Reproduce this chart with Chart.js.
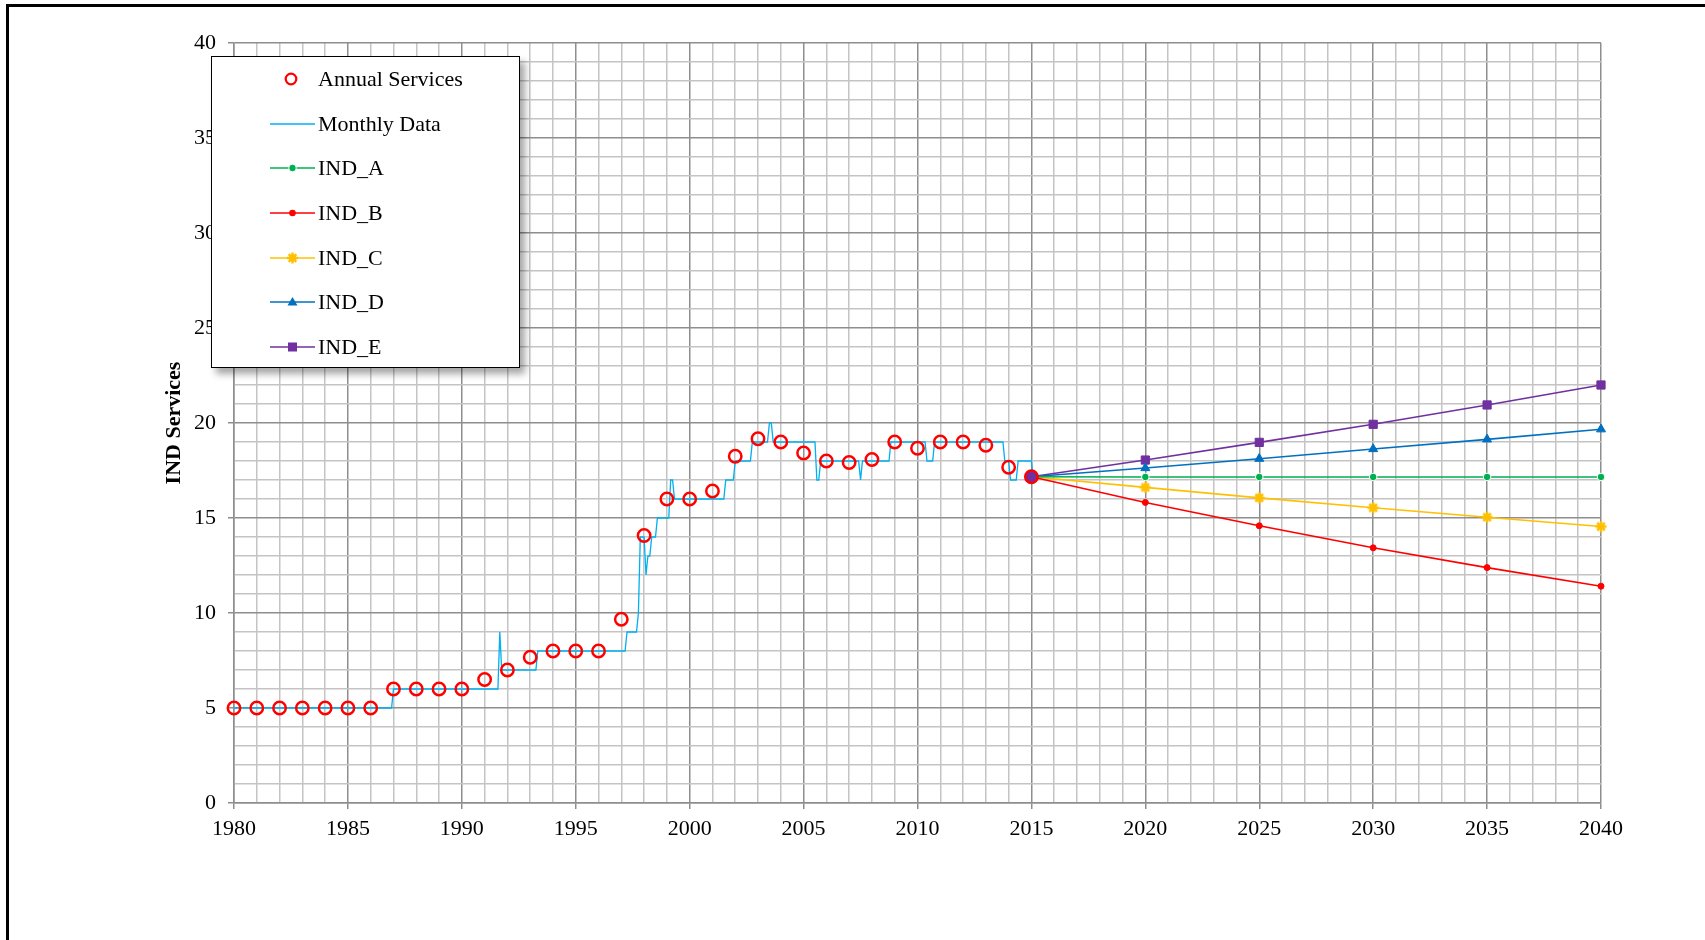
<!DOCTYPE html>
<html>
<head>
<meta charset="utf-8">
<script src="https://cdn.jsdelivr.net/npm/chart.js@4"></script>
<style>
  html, body { margin: 0; padding: 0; background: #fff; overflow: hidden; }
  body { width: 1705px; height: 940px; position: relative; font-family: 'Liberation Serif', 'Times New Roman', serif; }
  #frame { position: absolute; left: 6px; top: 4px; width: 2000px; height: 2000px; border-left: 3px solid #000; border-top: 3px solid #000; }
  #chartCanvas { position: absolute; left: 0; top: 0; }
  #legend { position: absolute; left: 211px; top: 56px; width: 309px; height: 312px; box-sizing: border-box;
            background: #fff; border: 1.5px solid #000; box-shadow: 5px 6px 7px rgba(0,0,0,0.35); }
  .item { height: 44.6px; display: flex; align-items: center; padding-left: 58px; font-size: 22px; color: #000; white-space: nowrap; }
  .item svg { width: 45px; height: 16px; margin-right: 3px; flex: none; }
</style>
</head>
<body>
<div id="frame"></div>
<canvas id="chartCanvas" width="1705" height="940"></canvas>
<div id="legend"></div>
<script>
// Annual values (one per year)
const annualYears = [1980, 1981, 1982, 1983, 1984, 1985, 1986, 1987, 1988, 1989, 1990, 1991,
  1992, 1993, 1994, 1995, 1996, 1997, 1998, 1999, 2000, 2001, 2002, 2003, 2004, 2005, 2006,
  2007, 2008, 2009, 2010, 2011, 2012, 2013, 2014, 2015];
const annualServices = [5, 5, 5, 5, 5, 5, 5, 6, 6, 6, 6, 6.5,
  7, 7.67, 8, 8, 8, 9.67, 14.08, 16, 16, 16.42, 18.25, 19.17, 19, 18.42, 18,
  17.92, 18.08, 19, 18.67, 19, 19, 18.83, 17.67, 17.17];

// Monthly data from Jan 1980: [value, number of months at that value]
const monthlyStartYear = 1980;
const monthlySteps = [[5, 84], [6, 56], [9, 1], [7, 19], [8, 47], [9, 6], [10, 1], [14, 3],
  [12, 1], [13, 2], [14, 3], [15, 7], [17, 2], [16, 27], [17, 5], [18, 9], [19, 9], [20, 2],
  [19, 23], [17, 2], [18, 21], [17, 1], [18, 15], [19, 19], [18, 4], [19, 37], [18, 3],
  [17, 4], [18, 8], [17, 1]];

// Projections
const projYears = [2015, 2020, 2025, 2030, 2035, 2040];
const indA = [17.17, 17.16, 17.16, 17.16, 17.16, 17.16];
const indB = [17.17, 15.82, 14.59, 13.43, 12.39, 11.41];
const indC = [17.17, 16.61, 16.06, 15.54, 15.04, 14.55];
const indD = [17.17, 17.63, 18.12, 18.63, 19.14, 19.67];
const indE = [17.17, 18.05, 18.98, 19.93, 20.95, 22.0];

const FONT = "'Liberation Serif', 'Times New Roman', serif";

// monthly points, one per month
const monthlyData = [];
let month = 0;
monthlySteps.forEach(([value, count]) => {
  for (let i = 0; i < count; i++) {
    monthlyData.push({ x: monthlyStartYear + month / 12, y: value });
    month++;
  }
});

const pairs = (xs, ys) => xs.map((x, i) => ({ x: x, y: ys[i] }));

// star-like marker for IND_C
function starMarker(color) {
  const c = document.createElement('canvas');
  c.width = 12; c.height = 12;
  const g = c.getContext('2d');
  g.fillStyle = color; g.strokeStyle = color; g.lineWidth = 2.4;
  g.beginPath(); g.arc(6, 6, 3.6, 0, Math.PI * 2); g.fill();
  g.beginPath();
  g.moveTo(6, 0.5); g.lineTo(6, 11.5);
  g.moveTo(0.5, 6); g.lineTo(11.5, 6);
  g.moveTo(2.2, 2.2); g.lineTo(9.8, 9.8);
  g.moveTo(9.8, 2.2); g.lineTo(2.2, 9.8);
  g.stroke();
  return c;
}

const MAJOR = '#8e8e8e';
const MINOR = '#c4c4c4';
const isMajor = ctx => ctx.tick && Math.round(ctx.tick.value) % 5 === 0;

const datasets = [
  {
    label: 'Annual Services',
    data: pairs(annualYears, annualServices),
    showLine: false,
    pointStyle: 'circle',
    pointRadius: 6.2,
    pointBorderWidth: 2.5,
    pointBorderColor: '#FF0000',
    pointBackgroundColor: ctx => ctx.dataIndex === annualYears.length - 1 ? '#7030A0' : 'rgba(0,0,0,0)',
    marker: 'ring', color: '#FF0000'
  },
  {
    label: 'Monthly Data',
    data: monthlyData,
    borderColor: '#00B0F0',
    borderWidth: 1.3,
    pointRadius: 0,
    marker: 'none', color: '#00B0F0'
  },
  {
    label: 'IND_A', data: pairs(projYears, indA),
    borderColor: '#00B050', borderWidth: 1.6,
    pointStyle: 'circle', pointRadius: 3.8, pointBackgroundColor: '#00B050',
    pointBorderColor: '#ffffff', pointBorderWidth: 1,
    marker: 'circle', color: '#00B050'
  },
  {
    label: 'IND_B', data: pairs(projYears, indB),
    borderColor: '#FF0000', borderWidth: 1.6,
    pointStyle: 'circle', pointRadius: 3, pointBackgroundColor: '#FF0000',
    pointBorderColor: '#FF0000', pointBorderWidth: 1,
    marker: 'dot', color: '#FF0000'
  },
  {
    label: 'IND_C', data: pairs(projYears, indC),
    borderColor: '#FFC000', borderWidth: 1.6,
    pointStyle: starMarker('#FFC000'),
    marker: 'star', color: '#FFC000'
  },
  {
    label: 'IND_D', data: pairs(projYears, indD),
    borderColor: '#0070C0', borderWidth: 1.6,
    pointStyle: 'triangle', pointRadius: 5.2, pointBackgroundColor: '#0070C0',
    pointBorderColor: '#0070C0', pointBorderWidth: 1,
    marker: 'triangle', color: '#0070C0'
  },
  {
    label: 'IND_E', data: pairs(projYears, indE),
    borderColor: '#7030A0', borderWidth: 1.6,
    pointStyle: 'rect', pointRadius: 5.8, pointBackgroundColor: '#7030A0',
    pointBorderColor: '#7030A0', pointBorderWidth: 1,
    marker: 'square', color: '#7030A0'
  }
];
// markers at the axis edges must not be cut off
datasets.forEach(ds => { ds.clip = false; });

const ctx = document.getElementById('chartCanvas').getContext('2d');
const chart = new Chart(ctx, {
  type: 'line',
  data: { datasets: datasets },
  options: {
    responsive: false,
    animation: false,
    layout: { padding: { left: 161, top: 43, right: 104, bottom: 77 } },
    plugins: { legend: { display: false }, tooltip: { enabled: false } },
    elements: { line: { tension: 0 } },
    scales: {
      x: {
        type: 'linear', min: 1980, max: 2040,
        afterFit: s => { s.height = 60; },
        border: { display: true, color: MAJOR, width: 1.5 },
        grid: {
          color: ctx => isMajor(ctx) ? MAJOR : MINOR,
          tickColor: ctx => isMajor(ctx) ? MAJOR : 'rgba(0,0,0,0)',
          lineWidth: 1.5, tickLength: 6
        },
        ticks: {
          stepSize: 1, autoSkip: false, maxRotation: 0, padding: 7, color: '#000',
          font: { family: FONT, size: 22 },
          callback: v => Math.round(v) % 5 === 0 ? String(Math.round(v)) : ''
        }
      },
      y: {
        min: 0, max: 40,
        afterFit: s => { s.width = 73; },
        border: { display: true, color: MAJOR, width: 1.5 },
        grid: {
          color: ctx => isMajor(ctx) ? MAJOR : MINOR,
          tickColor: ctx => isMajor(ctx) ? MAJOR : 'rgba(0,0,0,0)',
          lineWidth: 1.5, tickLength: 6
        },
        ticks: {
          stepSize: 1, autoSkip: false, padding: 12, color: '#000',
          font: { family: FONT, size: 22 },
          callback: v => Math.round(v) % 5 === 0 ? String(Math.round(v)) : ''
        },
        title: {
          display: true, text: 'IND Services', color: '#000', padding: 0,
          font: { family: FONT, size: 22, weight: 'bold' }
        }
      }
    }
  }
});

// legend box drawn as html, built from the chart datasets
function markerSvg(ds) {
  const c = ds.color;
  let line = '<line x1="0" y1="8" x2="45" y2="8" stroke="' + c + '" stroke-width="1.6"/>';
  let mark = '';
  if (ds.marker === 'ring') {
    line = '';
    mark = '<circle cx="21" cy="8" r="5.3" fill="none" stroke="' + c + '" stroke-width="2.2"/>';
  } else if (ds.marker === 'circle') {
    mark = '<circle cx="22.5" cy="8" r="3.8" fill="' + c + '" stroke="#fff" stroke-width="1"/>';
  } else if (ds.marker === 'dot') {
    mark = '<circle cx="22.5" cy="8" r="3.3" fill="' + c + '"/>';
  } else if (ds.marker === 'star') {
    mark = '<circle cx="22.5" cy="8" r="3.6" fill="' + c + '"/>' +
      '<path d="M22.5 2.5 V13.5 M17 8 H28 M18.7 4.2 L26.3 11.8 M26.3 4.2 L18.7 11.8" stroke="' + c + '" stroke-width="2.4"/>';
  } else if (ds.marker === 'triangle') {
    mark = '<polygon points="22.5,3 27.5,11.5 17.5,11.5" fill="' + c + '"/>';
  } else if (ds.marker === 'square') {
    mark = '<rect x="18" y="3.5" width="9" height="9" fill="' + c + '"/>';
  }
  return '<svg viewBox="0 0 45 16">' + line + mark + '</svg>';
}

const legendBox = document.getElementById('legend');
chart.data.datasets.forEach(ds => {
  const row = document.createElement('div');
  row.className = 'item';
  row.innerHTML = markerSvg(ds) + '<span>' + ds.label + '</span>';
  legendBox.appendChild(row);
});
</script>
</body>
</html>
